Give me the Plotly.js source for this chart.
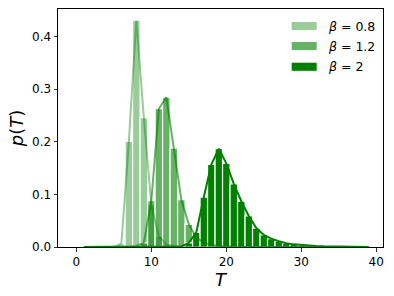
<!DOCTYPE html>
<html>
<head>
<meta charset="utf-8">
<script src="https://cdn.plot.ly/plotly-3.0.1.min.js"></script>
<style>html,body{margin:0;padding:0;background:#fff;}#chart{width:394px;height:296px;}</style>
</head>
<body>
<div id="chart"></div>
<script>
// T values (1..39)
const T = Array.from({length: 39}, (_, i) => i + 1);

// p(T) for beta = 0.8
const p_b08 = [0, 0, 0, 0, 0.001, 0.006, 0.201, 0.431, 0.246, 0.08,
               0.02, 0.005, 0.002, 0.001, 0, 0, 0, 0, 0, 0,
               0, 0, 0, 0, 0, 0, 0, 0, 0, 0,
               0, 0, 0, 0, 0, 0, 0, 0, 0];
// p(T) for beta = 1.2
const p_b12 = [0, 0, 0, 0, 0, 0, 0, 0.002, 0.008, 0.088,
               0.263, 0.285, 0.188, 0.09, 0.043, 0.018, 0.008, 0.004, 0.002, 0.001,
               0, 0, 0, 0, 0, 0, 0, 0, 0, 0,
               0, 0, 0, 0, 0, 0, 0, 0, 0];
// p(T) for beta = 2
const p_b2 = [0, 0, 0, 0, 0, 0, 0, 0, 0, 0,
              0, 0, 0, 0.001, 0.008, 0.028, 0.095, 0.157, 0.187, 0.159,
              0.12, 0.087, 0.059, 0.036, 0.023, 0.016, 0.011, 0.007, 0.005, 0.0035,
              0.0025, 0.0018, 0.0012, 0.0008, 0.0005, 0.0003, 0.0002, 0.0001, 0.0001];

const seriesNames = ['β = 0.8', 'β = 1.2', 'β = 2'];
const seriesLabels = ['<i>β</i> = 0.8', '<i>β</i> = 1.2', '<i>β</i> = 2'];
const seriesData = [p_b08, p_b12, p_b2];
const seriesColors = ['rgba(0,128,0,0.4)', 'rgba(0,128,0,0.6)', 'rgba(0,128,0,1)'];

const xTicks = [0, 10, 20, 30, 40];
const yTicks = [0.0, 0.1, 0.2, 0.3, 0.4];

const traces = [];
seriesData.forEach((d, i) => {
  traces.push({
    type: 'bar', x: T, y: d, width: 1, name: seriesNames[i],
    marker: {color: seriesColors[i], line: {color: 'white', width: 1.2}},
    showlegend: false, hoverinfo: 'skip'
  });
  traces.push({
    type: 'scatter', mode: 'lines', x: T, y: d, name: seriesNames[i],
    line: {color: seriesColors[i], width: 2},
    showlegend: false, hoverinfo: 'skip'
  });
});

// legend drawn as shapes + text
const legY = [0.9285, 0.8444, 0.7573];
const shapes = legY.map((y, i) => ({
  type: 'rect', xref: 'paper', yref: 'paper',
  x0: 0.719, x1: 0.796, y0: y - 0.017, y1: y + 0.017,
  fillcolor: seriesColors[i], line: {width: 0}
}));
const annotations = legY.map((y, i) => ({
  xref: 'paper', yref: 'paper', x: 0.826, y: y,
  xanchor: 'left', yanchor: 'middle', showarrow: false,
  text: seriesLabels[i],
  font: {family: 'DejaVu Sans', size: 12.5, color: '#000'}
}));

const axisCommon = {
  showline: true, linecolor: '#000', linewidth: 1, mirror: true,
  ticks: 'outside', ticklen: 3.5, tickwidth: 0.8, tickcolor: '#000',
  showgrid: false, zeroline: false,
  tickfont: {family: 'DejaVu Sans', size: 12, color: '#000'}
};

const layout = {
  width: 394, height: 296,
  margin: {l: 58, r: 11, t: 9, b: 49},
  paper_bgcolor: '#fff', plot_bgcolor: '#fff',
  barmode: 'overlay', bargap: 0,
  showlegend: false,
  xaxis: Object.assign({}, axisCommon, {
    range: [-2.45, 40.9], tickvals: xTicks, ticktext: xTicks.map(String),
    title: {text: '<i>T</i>', font: {family: 'DejaVu Sans', size: 18, color: '#000'}, standoff: 2}
  }),
  yaxis: Object.assign({}, axisCommon, {
    range: [0, 0.4527], tickvals: yTicks, ticktext: yTicks.map(v => v.toFixed(1)),
    title: {text: '<i>p</i>(<i>T</i>)', font: {family: 'DejaVu Sans', size: 18, color: '#000'}, standoff: 3}
  }),
  shapes: shapes,
  annotations: annotations
};

Plotly.newPlot('chart', traces, layout, {staticPlot: true, displayModeBar: false});
</script>
</body>
</html>
